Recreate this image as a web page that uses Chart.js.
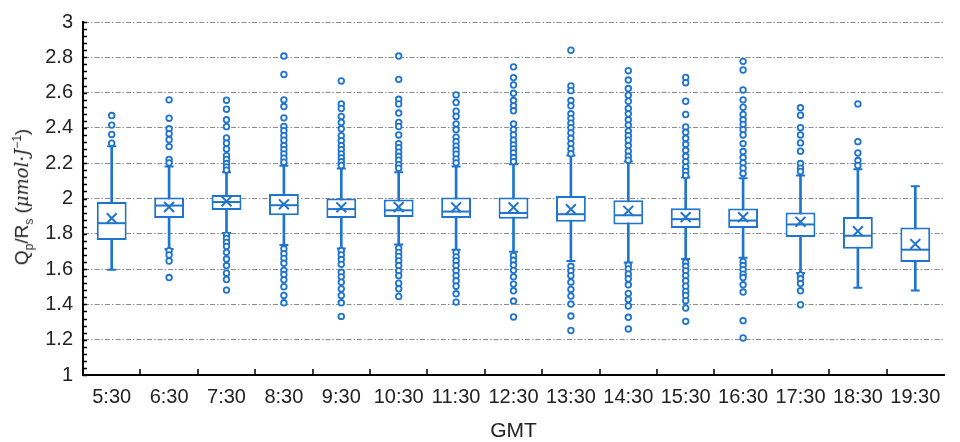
<!DOCTYPE html>
<html>
<head>
<meta charset="utf-8">
<script src="https://cdn.jsdelivr.net/npm/chart.js@4/dist/chart.umd.min.js"></script>
<style>
  body { margin: 0; background: #fff; }
  #wrap { position: relative; width: 960px; height: 442px; }
  #ytitle {
    position: absolute; left: 23px; top: 197px;
    transform: translate(-50%, -50%) rotate(-90deg);
    white-space: nowrap; font-family: 'Liberation Sans', Arial, sans-serif;
    font-size: 19px; color: #222;
  }
  #ytitle sub, #ytitle sup { font-size: 12px; }
  #ytitle i { font-family: 'DejaVu Serif', 'Liberation Serif', serif; font-size: 18px; }
</style>
</head>
<body>
<div id="wrap">
  <canvas id="chart" width="960" height="442"></canvas>
  <div id="ytitle">Q<sub>p</sub>/R<sub>s</sub> (<i>μmol·J</i><sup>−1</sup>)</div>
</div>
<script>
const labels = ['5:30', '6:30', '7:30', '8:30', '9:30', '10:30', '11:30', '12:30',
  '13:30', '14:30', '15:30', '16:30', '17:30', '18:30', '19:30'];

// box statistics per half-hour slot
const q1 = [1.765, 1.89, 1.935, 1.905, 1.89, 1.895, 1.89, 1.885, 1.868, 1.852, 1.833, 1.833, 1.782, 1.715, 1.64];
const q3 = [1.98, 2.005, 2.02, 2.025, 2.0, 1.995, 2.005, 2.005, 2.014, 1.99, 1.945, 1.943, 1.92, 1.895, 1.835];
const median = [1.86, 1.96, 1.98, 1.962, 1.94, 1.933, 1.926, 1.918, 1.911, 1.905, 1.883, 1.875, 1.853, 1.789, 1.71];
const mean = [1.888, 1.952, 1.984, 1.967, 1.95, 1.952, 1.95, 1.95, 1.939, 1.93, 1.894, 1.894, 1.868, 1.815, 1.742];
const whiskerHigh = [2.296, 2.181, 2.149, 2.185, 2.17, 2.149, 2.181, 2.194, 2.243, 2.209, 2.119, 2.115, 2.131, 2.166, 2.069];
const whiskerLow = [1.597, 1.714, 1.804, 1.736, 1.717, 1.74, 1.71, 1.699, 1.646, 1.637, 1.657, 1.665, 1.578, 1.494, 1.479];

const outliers = [
  [2.47, 2.416, 2.363, 2.313],
  [2.559, 2.455, 2.395, 2.367, 2.333, 2.294, 2.221, 2.202, 1.704, 1.68, 1.646, 1.552],
  [2.557, 2.506, 2.446, 2.407, 2.343, 2.313, 2.281, 2.243, 2.221, 2.198, 2.179, 2.161,
   1.792, 1.774, 1.751, 1.729, 1.695, 1.657, 1.62, 1.577, 1.541, 1.481],
  [2.807, 2.703, 2.559, 2.521, 2.457, 2.408, 2.384, 2.356, 2.33, 2.3, 2.277, 2.253, 2.228, 2.206,
   1.714, 1.687, 1.661, 1.633, 1.593, 1.569, 1.539, 1.5, 1.451, 1.409],
  [2.666, 2.536, 2.51, 2.465, 2.431, 2.395, 2.356, 2.328, 2.3, 2.277, 2.253, 2.23, 2.208, 2.187,
   1.704, 1.68, 1.654, 1.627, 1.582, 1.556, 1.526, 1.488, 1.451, 1.409, 1.332],
  [2.807, 2.675, 2.562, 2.536, 2.484, 2.431, 2.408, 2.36, 2.311, 2.288, 2.262, 2.239, 2.217, 2.192, 2.172,
   1.719, 1.695, 1.672, 1.646, 1.62, 1.59, 1.563, 1.52, 1.488, 1.445],
  [2.587, 2.544, 2.495, 2.465, 2.423, 2.39, 2.348, 2.322, 2.296, 2.273, 2.251, 2.224, 2.202,
   1.695, 1.669, 1.646, 1.62, 1.59, 1.563, 1.533, 1.503, 1.46, 1.413],
  [2.746, 2.685, 2.643, 2.596, 2.555, 2.525, 2.497, 2.423, 2.39, 2.36, 2.33, 2.303, 2.281, 2.258, 2.232, 2.209,
   1.676, 1.65, 1.623, 1.593, 1.556, 1.515, 1.477, 1.419, 1.329],
  [2.84, 2.638, 2.611, 2.555, 2.525, 2.48, 2.454, 2.427, 2.401, 2.371, 2.341, 2.311, 2.281, 2.254,
   1.616, 1.59, 1.563, 1.526, 1.485, 1.447, 1.402, 1.334, 1.252],
  [2.724, 2.671, 2.623, 2.585, 2.551, 2.51, 2.48, 2.446, 2.416, 2.382, 2.356, 2.33, 2.3, 2.268, 2.239, 2.217,
   1.623, 1.601, 1.571, 1.545, 1.511, 1.462, 1.428, 1.391, 1.327, 1.261],
  [2.686, 2.656, 2.551, 2.476, 2.405, 2.375, 2.341, 2.307, 2.273, 2.239, 2.209, 2.179, 2.153, 2.131,
   1.638, 1.616, 1.59, 1.563, 1.533, 1.503, 1.473, 1.451, 1.421, 1.379, 1.304],
  [2.777, 2.728, 2.615, 2.559, 2.517, 2.476, 2.446, 2.42, 2.39, 2.36, 2.311, 2.266, 2.232, 2.202, 2.172, 2.142,
   1.642, 1.62, 1.597, 1.571, 1.552, 1.511, 1.47, 1.308, 1.21],
  [2.514, 2.472, 2.401, 2.36, 2.315, 2.268, 2.198, 2.172, 2.153,
   1.567, 1.545, 1.518, 1.477, 1.398],
  [2.536, 2.322, 2.258, 2.215, 2.187],
  []
];

const yTicksMajor = 0.2;

const blue = 'rgb(30, 116, 206)';
const font = "'Liberation Sans', Arial, sans-serif";

const isMajor = (v) => Math.abs(v / yTicksMajor - Math.round(v / yTicksMajor)) < 1e-6;

const outlierPoints = [];
outliers.forEach((vals, i) => vals.forEach(v => outlierPoints.push({ x: labels[i], y: v })));

// small tick marks pointing into the plot, placed from the scales
const innerTicks = {
    id: 'innerTicks',
    afterDraw(chart) {
        const { ctx, scales: { x, y } } = chart;
        ctx.save();
        ctx.strokeStyle = '#000';
        ctx.lineWidth = 1.5;
        ctx.beginPath();
        y.ticks.forEach((t, i) => {
            const py = Math.round(y.getPixelForTick(i)) + 0.5;
            ctx.moveTo(x.left, py);
            ctx.lineTo(x.left + 4, py);
        });
        for (let i = 0; i < labels.length - 1; i++) {
            const px = Math.round(x.getPixelForValue(i + 0.5));
            ctx.moveTo(px, y.bottom);
            ctx.lineTo(px, y.bottom - 6);
        }
        ctx.stroke();
        ctx.restore();
    }
};

const pointSet = (data, style, radius, order, extra) => Object.assign({
    type: 'line',
    data: data,
    showLine: false,
    pointStyle: style,
    pointRadius: radius,
    pointHoverRadius: radius,
    pointBorderColor: blue,
    pointBackgroundColor: blue,
    pointBorderWidth: 2,
    order: order
}, extra || {});

new Chart(document.getElementById('chart'), {
    type: 'bar',
    data: {
        labels: labels,
        datasets: [
            pointSet(outlierPoints, 'circle', 2.8, 1, { pointBackgroundColor: '#fff', pointBorderWidth: 1.8 }),
            pointSet(mean, 'crossRot', 7, 2),
            pointSet(median, 'line', 14, 3),
            pointSet(whiskerHigh, 'line', 4.5, 4),
            pointSet(whiskerLow, 'line', 4.5, 4),
            {
                type: 'bar',
                data: labels.map((l, i) => [q1[i], q3[i]]),
                backgroundColor: '#fff',
                borderColor: blue,
                borderWidth: 2,
                borderSkipped: false,
                barPercentage: 0.52,
                categoryPercentage: 1,
                grouped: false,
                order: 5
            },
            {
                type: 'bar',
                data: labels.map((l, i) => [whiskerLow[i], whiskerHigh[i]]),
                backgroundColor: blue,
                borderWidth: 0,
                barThickness: 2,
                grouped: false,
                order: 6
            }
        ]
    },
    options: {
        responsive: false,
        animation: false,
        layout: { padding: { top: 20, right: 2, bottom: 0, left: 0 } },
        plugins: { legend: { display: false }, tooltip: { enabled: false } },
        scales: {
            x: {
                type: 'category',
                offset: true,
                afterFit: (scale) => { scale.height = 67; },
                grid: { display: false, drawTicks: false },
                border: { display: true, color: '#000', width: 2 },
                ticks: {
                    autoSkip: false,
                    maxRotation: 0,
                    padding: 10,
                    color: '#222',
                    font: { family: font, size: 20 }
                },
                title: {
                    display: true,
                    text: 'GMT',
                    color: '#222',
                    padding: 0,
                    font: { family: font, size: 21, lineHeight: 1 }
                }
            },
            y: {
                min: 1,
                max: 3,
                afterFit: (scale) => { scale.width = 83; },
                grid: {
                    color: (ctx) => (isMajor(ctx.tick.value) && ctx.tick.value > 1.001) ? '#8c8c8c' : 'rgba(0,0,0,0)',
                    lineWidth: 1,
                    drawTicks: false
                },
                border: { display: true, color: '#000', width: 2, dash: [5, 2, 1.5, 2] },
                ticks: {
                    stepSize: 0.04,
                    autoSkip: false,
                    padding: 10,
                    color: '#222',
                    font: { family: font, size: 20 },
                    callback: (v) => isMajor(v) ? String(Number(v.toFixed(1))) : ''
                }
            }
        }
    },
    plugins: [innerTicks]
});
</script>
</body>
</html>
